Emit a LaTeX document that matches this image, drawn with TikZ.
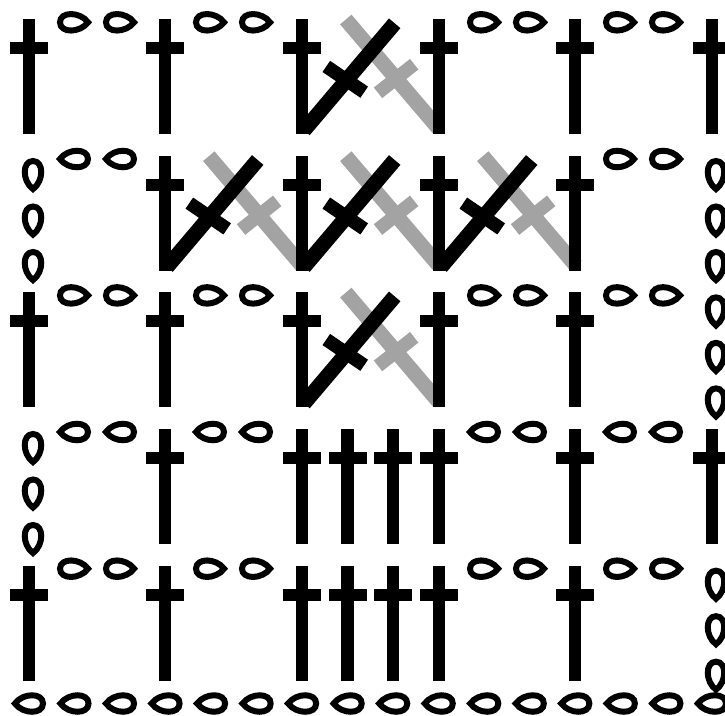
\documentclass[tikz,border=0pt]{standalone}
\usepackage{tikz}
\usepackage{xcolor}
\definecolor{backgray}{RGB}{163,163,163}
\tikzset{
  stitchstem/.style={line width=12.5pt},
  stitchbar/.style={line width=12pt},
  slantstem/.style={line width=15pt},
  slantbar/.style={line width=13.5pt},
  chainloop/.style={line width=6pt, line join=miter}
}
% treble: x of the stem, y of its top
\newcommand{\dcstitch}[2]{
  \begin{scope}[shift={(#1,#2)}]
    \draw[stitchstem] (0,0) -- (0,115);
    \draw[stitchbar] (-19,29) -- (19,29);
  \end{scope}
}
% chain loop: centre and the way the tip points
\newcommand{\chloop}[3]{
  \draw[chainloop, shift={(#1,#2)}, rotate=#3]
    (14,0) .. controls (6,-11) and (-14,-11) .. (-14,0)
    .. controls (-14,11) and (6,11) .. (14,0) -- cycle;
}
% two loops next to a stem
\newcommand{\chpair}[3]{
  \chloop{#1+45}{#2+3}{#3}
  \chloop{#1+91}{#2+3}{#3}
}
% three loops going down the side
\newcommand{\chside}[2]{
  \foreach \dy in {19,64.5,110} {
    \chloop{#1}{#2+\dy}{-90}
  }
}
% crossed pair, the gray one behind
\newcommand{\vstitch}[2]{
  \begin{scope}[shift={(#1,#2)}]
    \draw[slantstem, backgray] (43.8,0.2) -- (137,109.7);
    \draw[slantbar, backgray] (76,73.5) -- (112.2,44.9);
    \draw[slantstem] (92.7,4) -- (2,111);
    \draw[slantbar] (24.3,47.1) -- (62.2,72.9);
  \end{scope}
}
\begin{document}
\begin{tikzpicture}[>=latex, x=1pt, y=-1pt]
  \useasboundingbox (0,0) rectangle (725,715);
  \clip (0,0) rectangle (725,715);

  % Row heights
  \def\rowa{19.3}
  \def\rowb{156}
  \def\rowc{292.4}
  \def\rowd{429}
  \def\rowe{565.7}

  % Crossed pairs
  \vstitch{302}{\rowa}
  \foreach \px in {165,302,439} {
    \vstitch{\px}{\rowb}
  }
  \vstitch{302}{\rowc}

  % Stems
  \foreach \px in {29,165,302,439,575,712} {
    \dcstitch{\px}{\rowa}
  }
  \foreach \px in {165,302,439,575} {
    \dcstitch{\px}{\rowb}
  }
  \foreach \px in {29,165,302,439,575} {
    \dcstitch{\px}{\rowc}
  }
  \foreach \px in {165,302,347.5,393,439,575,712} {
    \dcstitch{\px}{\rowd}
  }
  \foreach \px in {29,165,302,347.5,393,439,575} {
    \dcstitch{\px}{\rowe}
  }

  % Chains between the stems
  \foreach \px in {29,165,439,575} {
    \chpair{\px}{\rowa}{0}
    \chpair{\px}{\rowc}{0}
    \chpair{\px}{\rowd}{180}
    \chpair{\px}{\rowe}{0}
  }
  \chpair{29}{\rowb}{180}
  \chpair{575}{\rowb}{0}

  % Chains at the sides
  \chside{33}{\rowb}
  \chside{33}{\rowd}
  \chside{716}{\rowb}
  \chside{716}{\rowc}
  \chside{716}{\rowe}

  % Foundation chain
  \foreach \k in {0,...,15} {
    \chloop{29+45.53*\k}{703.5}{180}
  }
\end{tikzpicture}
\end{document}
